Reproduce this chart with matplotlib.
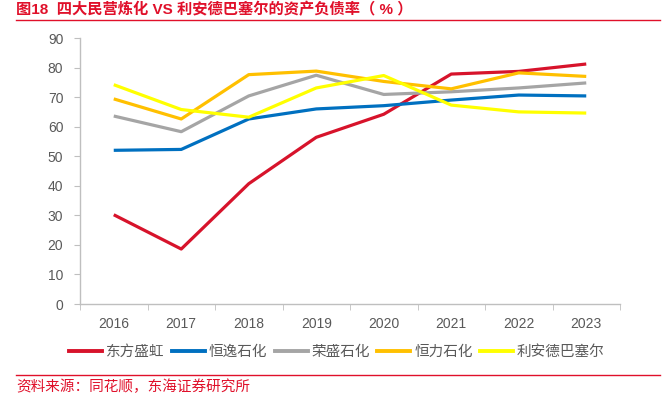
import matplotlib
matplotlib.use('Agg')
import matplotlib.pyplot as plt
import numpy as np
from matplotlib.lines import Line2D

plt.rcParams['font.family'] = ['Liberation Sans', 'Noto Sans CJK SC', 'DejaVu Sans']

years = ['2016', '2017', '2018', '2019', '2020', '2021', '2022', '2023']
names = ['东方盛虹', '恒逸石化', '荣盛石化', '恒力石化', '利安德巴塞尔']
dfsh = [30.2, 18.6, 40.7, 56.4, 64.2, 77.8, 78.7, 81.2]
hysh = [52.0, 52.3, 62.6, 66.0, 67.1, 69.0, 70.7, 70.4]
rssh = [63.6, 58.3, 70.4, 77.4, 70.9, 71.8, 73.1, 74.8]
hlsh = [69.4, 62.6, 77.6, 78.8, 75.3, 72.8, 78.2, 77.0]
lyb = [74.2, 65.8, 63.2, 73.1, 77.3, 67.3, 65.0, 64.6]
colors = ['#D7132B', '#0070C0', '#A5A5A5', '#FFC000', '#FFFF00']

red = '#E0102A'
grey_txt = '#595959'

fig = plt.figure(figsize=(6.66, 3.98), dpi=100)
ax = fig.add_axes([80/666, 1-304/398, 540/666, 266/398])

x = np.arange(len(years))
for vals, c in zip([dfsh, hysh, rssh, hlsh, lyb], colors):
    ax.plot(x, vals, color=c, lw=2.3, solid_capstyle='butt')

ax.set_xlim(-0.5, len(years) - 0.5)
ax.set_ylim(0, 90)
ax.set_yticks(range(0, 91, 10))
ax.set_xticks(x)
ax.set_xticklabels(years)
ax.set_xticks(np.arange(-0.5, len(years), 1), minor=True)
ax.tick_params(axis='x', which='major', length=0, pad=9, labelsize=10, labelcolor=grey_txt)
ax.tick_params(axis='x', which='minor', length=4, color='#BFBFBF', direction='out')
ax.tick_params(axis='y', length=4, color='#BFBFBF', labelsize=10, labelcolor=grey_txt, pad=8)
for s in ['top', 'right']:
    ax.spines[s].set_visible(False)
for s in ['left', 'bottom']:
    ax.spines[s].set_color('#BFBFBF')
    ax.spines[s].set_linewidth(1.0)

handles = [Line2D([], [], color=c, lw=2.8) for c in colors]
fig.legend(handles, names, loc='center', bbox_to_anchor=(337/666, 1-352/398), ncol=5,
           frameon=False, handlelength=2.26, handletextpad=0.27, columnspacing=0.5,
           prop={'family': ['Noto Sans CJK SC'], 'size': 10.5}, labelcolor=grey_txt)

fig.text(16/666, 1-10/398, '图18  四大民营炼化 VS 利安德巴塞尔的资产负债率（ % ）',
         color=red, fontsize=11, fontweight='bold', ha='left', va='center',
         family=['Liberation Sans', 'Noto Sans CJK SC'])
fig.add_artist(Line2D([16/666, 660/666], [1-20/398, 1-20/398], color=red, lw=1.0))
fig.add_artist(Line2D([16/666, 660/666], [1-375/398, 1-375/398], color=red, lw=1.0))
fig.text(16/666, 1-387/398, '资料来源：同花顺，东海证券研究所', color=red, fontsize=10.5,
         ha='left', va='center', family=['Noto Sans CJK SC'])

fig.savefig('out.png', dpi=100)
